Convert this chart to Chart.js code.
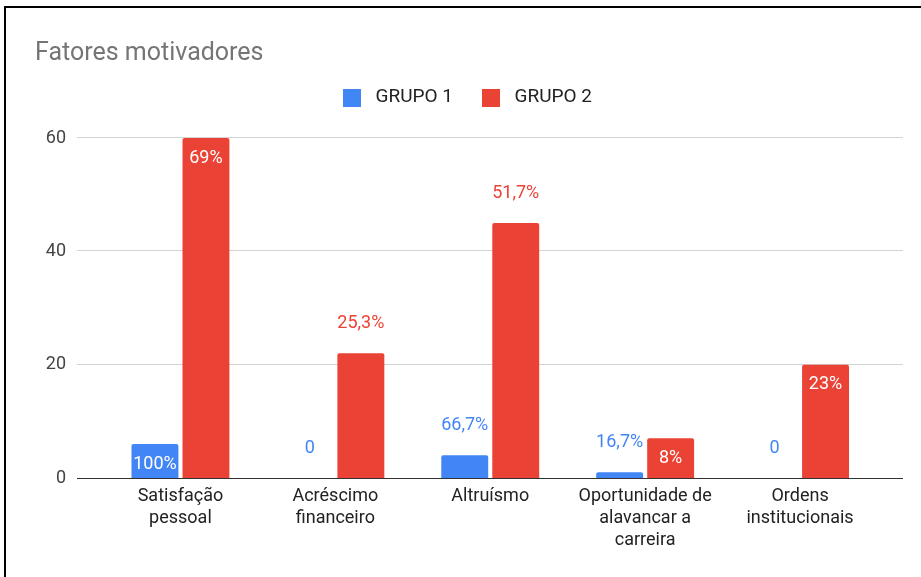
<!DOCTYPE html>
<html>
<head>
<meta charset="utf-8">
<script src="https://cdn.jsdelivr.net/npm/chart.js@4.4.0/dist/chart.umd.min.js"></script>
<style>
html,body{margin:0;padding:0;background:#fff;}
#wrap{position:relative;width:921px;height:577px;overflow:hidden;background:#fff;}
#wrap canvas{position:absolute;left:0;top:0;}
#frame{position:absolute;left:4px;top:6px;right:-10px;bottom:-10px;border-left:2px solid #000;border-top:2px solid #000;pointer-events:none;}
</style>
</head>
<body>
<div id="wrap"><canvas id="c" width="921" height="577"></canvas><div id="frame"></div></div>
<script>
// ---- data ----
const categories = [
  ["Satisfação", "pessoal"],
  ["Acréscimo", "financeiro"],
  ["Altruísmo"],
  ["Oportunidade de", "alavancar a", "carreira"],
  ["Ordens", "institucionais"]
];
const seriesNames = ["GRUPO 1", "GRUPO 2"];
const grupo1 = [6, 0, 4, 1, 0];
const grupo2 = [60, 22, 45, 7, 20];
const grupo1Labels = ["100%", "0", "66,7%", "16,7%", "0"];
const grupo2Labels = ["69%", "25,3%", "51,7%", "8%", "23%"];
const yTickValues = [0, 20, 40, 60];

const BLUE = "#4285F4";
const RED = "#EA4335";
const FONT = "Roboto";

Chart.defaults.font.family = FONT;

function swatch(color) {
  const c = document.createElement("canvas");
  c.width = 18; c.height = 18;
  const g = c.getContext("2d");
  g.fillStyle = color;
  g.fillRect(0, 0, 18, 18);
  return c;
}

const gridPlugin = {
  id: "extendedGrid",
  beforeDatasetsDraw(chart) {
    const {ctx, chartArea} = chart;
    const ys = chart.scales.y;
    const x0 = chartArea.left - 26, x1 = chartArea.right + 25.5;
    ctx.save();
    ctx.strokeStyle = "#d3d3d3";
    ctx.lineWidth = 1;
    ys.ticks.forEach(t => {
      if (t.value === 0) return;
      const py = Math.round(ys.getPixelForValue(t.value)) - 0.5;
      ctx.beginPath(); ctx.moveTo(x0, py); ctx.lineTo(x1, py); ctx.stroke();
    });
    ctx.restore();
  },
  afterDatasetsDraw(chart) {
    const {ctx, chartArea} = chart;
    const ys = chart.scales.y;
    const x0 = chartArea.left - 26, x1 = chartArea.right + 25.5;
    const py = Math.round(ys.getPixelForValue(0)) + 0.5;
    ctx.save();
    ctx.strokeStyle = "#333333";
    ctx.lineWidth = 1.2;
    ctx.beginPath(); ctx.moveTo(x0, py); ctx.lineTo(x1, py); ctx.stroke();
    ctx.restore();

    // data labels: inside the bar top when the text fits, otherwise above it
    ctx.save();
    ctx.font = "18px " + FONT;
    ctx.textAlign = "center";
    ctx.textBaseline = "middle";
    chart.data.datasets.forEach((ds, di) => {
      const meta = chart.getDatasetMeta(di);
      meta.data.forEach((bar, i) => {
        const p = bar.getProps(["x", "y", "base", "width"], true);
        const h = p.base - p.y;
        const txt = ds.valueLabels[i];
        const tw = ctx.measureText(txt).width;
        if (h >= 30 && tw + 2 <= p.width) {
          ctx.fillStyle = "#ffffff";
          ctx.fillText(txt, p.x, p.y + 20);
        } else {
          ctx.fillStyle = ds.backgroundColor;
          ctx.fillText(txt, p.x, p.y - 30);
        }
      });
    });
    ctx.restore();
  }
};

new Chart(document.getElementById("c"), {
  type: "bar",
  data: {
    labels: categories,
    datasets: [
      {label: seriesNames[0], data: grupo1, valueLabels: grupo1Labels, backgroundColor: BLUE,
       borderRadius: 2, categoryPercentage: 0.6585, barPercentage: 0.92},
      {label: seriesNames[1], data: grupo2, valueLabels: grupo2Labels, backgroundColor: RED,
       borderRadius: 2, categoryPercentage: 0.6585, barPercentage: 0.92}
    ]
  },
  options: {
    responsive: false,
    animation: false,
    devicePixelRatio: 1,
    layout: {padding: {left: 35, right: 26, top: 39, bottom: 0}},
    plugins: {
      title: {
        display: true,
        text: "Fatores motivadores",
        align: "start",
        color: "#757575",
        font: {size: 25, weight: "normal", lineHeight: "20px"},
        padding: {top: 5, bottom: 0}
      },
      legend: {
        display: true,
        position: "top",
        align: "center",
        labels: {
          color: "#222222",
          font: {size: 19},
          usePointStyle: true,
          pointStyleWidth: 28,
          boxHeight: 18,
          padding: 24,
          generateLabels(chart) {
            return chart.data.datasets.map((ds, i) => ({
              text: ds.label,
              fillStyle: ds.backgroundColor,
              strokeStyle: ds.backgroundColor,
              lineWidth: 0,
              pointStyle: swatch(ds.backgroundColor),
              hidden: !chart.isDatasetVisible(i),
              datasetIndex: i,
              fontColor: "#222222"
            }));
          }
        }
      },
      tooltip: {enabled: false}
    },
    scales: {
      x: {
        grid: {display: false, drawTicks: false},
        border: {display: false},
        ticks: {color: "#222222", font: {size: 18, lineHeight: 1.2}, padding: 8,
                autoSkip: false, maxRotation: 0, minRotation: 0},
        afterFit(s) { s.height = 99; }
      },
      xTop: {
        type: "category",
        position: "top",
        display: true,
        grid: {display: false, drawTicks: false},
        border: {display: false},
        ticks: {display: false},
        afterFit(s) { s.height = 21; }
      },
      y: {
        position: "left",
        min: 0, max: 60,
        afterBuildTicks(s) { s.ticks = yTickValues.map(v => ({value: v})); },
        grid: {display: false, drawTicks: false},
        border: {display: false},
        ticks: {color: "#444444", font: {size: 18}, padding: 37, stepSize: 20},
        afterFit(s) { s.width = 68; }
      },
      yRight: {
        position: "right",
        display: true,
        grid: {display: false, drawTicks: false},
        border: {display: false},
        ticks: {display: false},
        afterFit(s) { s.width = 17.5; }
      }
    }
  },
  plugins: [gridPlugin]
});
</script>
</body>
</html>
